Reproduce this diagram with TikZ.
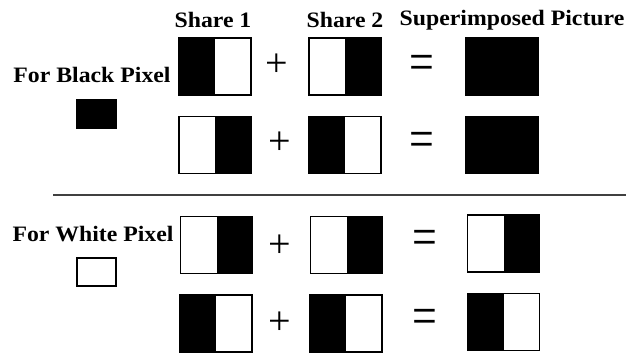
\documentclass[tikz,border=0pt]{standalone}
\usepackage{fontspec}
\setmainfont{Liberation Serif}
\begin{document}
\begin{tikzpicture}[x=1pt,y=-1pt,
  cell/.style={draw, line width=1.3pt, minimum width=72pt, minimum height=57pt, inner sep=0pt},
  lb/.style={cell, path picture={\fill[black] (path picture bounding box.south west) rectangle (path picture bounding box.north);}},
  rb/.style={cell, path picture={\fill[black] (path picture bounding box.south) rectangle (path picture bounding box.north east);}},
  fb/.style={cell, fill=black},
  lbl/.style={font=\fontsize{22}{24}\selectfont\bfseries, inner sep=0pt, xscale=1.08},
  op/.style={font=\fontsize{40}{40}\selectfont, inner sep=0pt},
  eq/.style={font=\fontsize{44}{44}\selectfont, inner sep=0pt, yscale=1.25},
  pix/.style={draw, line width=1.2pt, minimum width=39pt, minimum height=28pt, inner sep=0pt}
]
\useasboundingbox (0,0) rectangle (626,356);
% headers
\node[lbl] (h1) at (213,20) {Share 1};
\node[lbl] (h2) at (345,20) {Share 2};
\node[lbl] (h3) at (512,20) {Superimposed Picture};
\node[lbl] (fbp) at (92,75) {For Black Pixel};
\node[lbl] (fwp) at (93,234) {For White Pixel};
\node[pix, fill=black] (bpx) at (96.5,114) {};
\node[pix] (wpx) at (96.5,272) {};
% row A
\node[lb] (a1) at (215,66.5) {};
\node[rb] (a2) at (345,66.5) {};
\node[fb] (a3) at (502,66.5) {};
% row B
\node[rb] (b1) at (215,145) {};
\node[lb] (b2) at (345,145) {};
\node[fb] (b3) at (502,145) {};
% separator
\coordinate (sl) at (53,195);
\coordinate (sr) at (626,195);
\draw[line width=1.2pt, black!75] (sl) -- (sr);
% row C
\node[rb] (c1) at (216.5,245) {};
\node[rb] (c2) at (346.5,245) {};
\node[rb] (c3) at (503.5,243.5) {};
% row D
\node[lb] (d1) at (216,323.5) {};
\node[lb] (d2) at (346,323.5) {};
\node[lb] (d3) at (503.5,322) {};
% operators
\node[op] (pa) at (277,65.5) {+};
\node[op] (pb) at (280,143) {+};
\node[op] (pc) at (280,246) {+};
\node[op] (pd) at (280,323) {+};
\node[eq] (ea) at (421.5,68) {=};
\node[eq] (eb) at (422,145) {=};
\node[eq] (ec) at (425,243) {=};
\node[eq] (ed) at (425,322) {=};
\end{tikzpicture}
\end{document}
